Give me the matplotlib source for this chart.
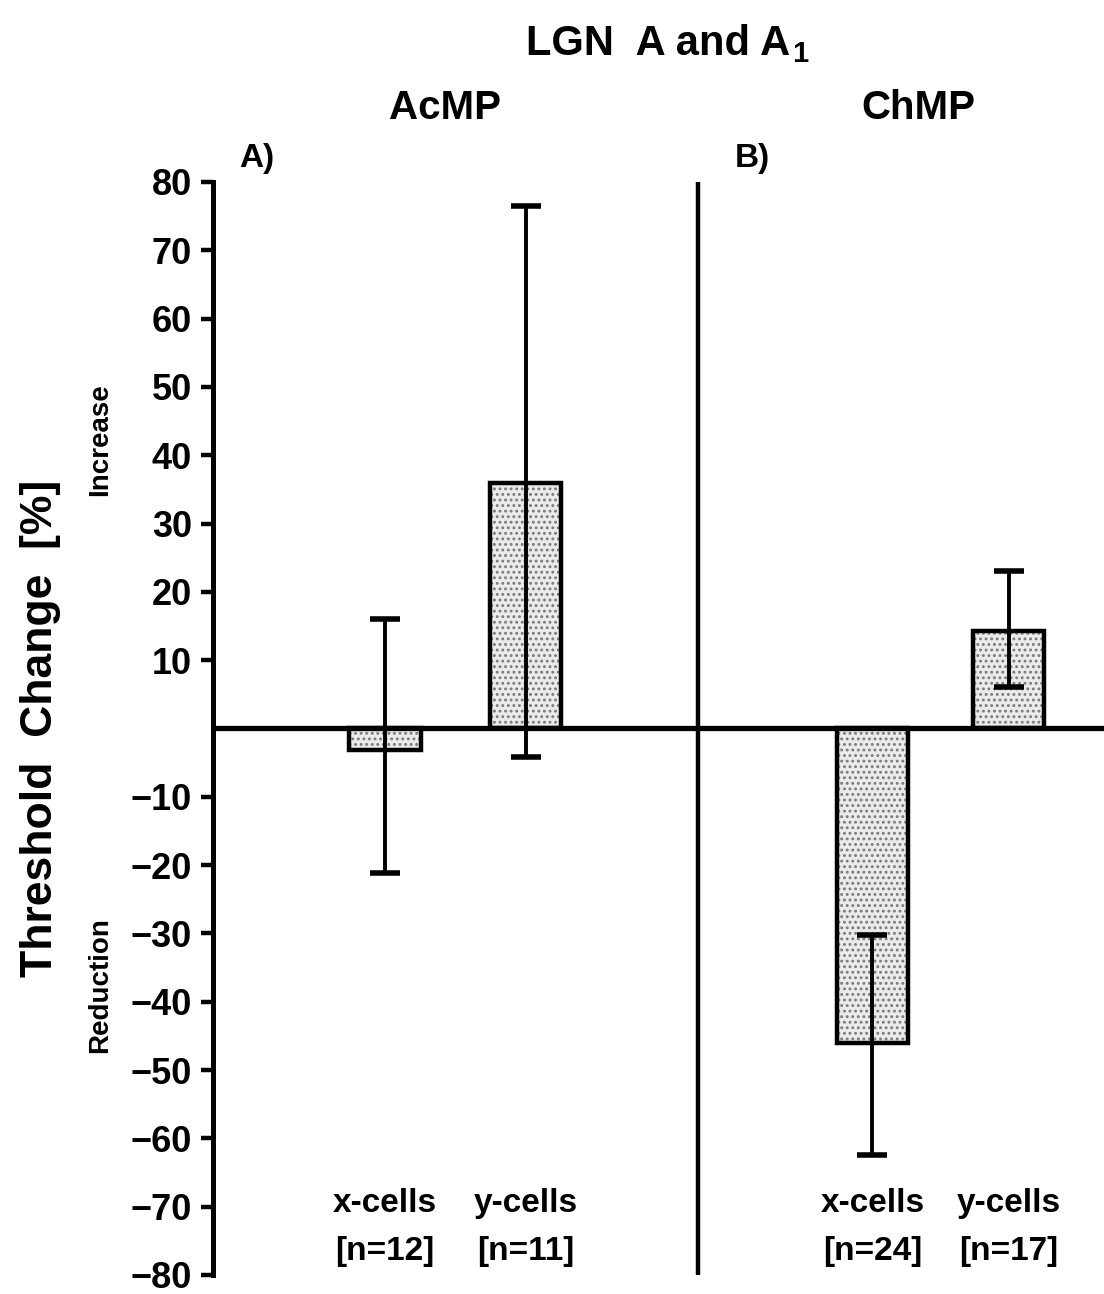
import matplotlib
matplotlib.use("Agg")
import matplotlib.pyplot as plt
import numpy as np

plt.rcParams['font.family'] = ['Liberation Sans', 'DejaVu Sans']
plt.rcParams['font.weight'] = 'bold'
plt.rcParams['hatch.linewidth'] = 1.3

# threshold change (%) per cell class, mean and error bar ends
cells = ['x-cells', 'y-cells']
acmp_n = [12, 11]
acmp_mean = [-3.2, 36.0]
acmp_hi = [16.0, 76.5]
acmp_lo = [-21.2, -4.2]

chmp_n = [24, 17]
chmp_mean = [-46.0, 14.3]
chmp_hi = [-30.3, 23.0]
chmp_lo = [-62.5, 6.0]

yticks = [v for v in range(-80, 90, 10) if v != 0]

fig = plt.figure(figsize=(11.04, 12.94), dpi=100)
ax = fig.add_axes([0.193, 0.0147, 0.807, 0.8447])
ax.set_xlim(0, 10)
ax.set_ylim(-80, 80)

bar_w = 0.80
groups = [
    ([1.93, 3.51], acmp_mean, acmp_hi, acmp_lo, acmp_n),
    ([7.40, 8.93], chmp_mean, chmp_hi, chmp_lo, chmp_n),
]

for xs, mean, hi, lo, ns in groups:
    mean = np.array(mean)
    err = [mean - np.array(lo), np.array(hi) - mean]
    # stippled fill, then the black outline on top
    ax.bar(xs, mean, width=bar_w, color='#ebebeb', edgecolor='#7a7a7a',
           hatch='...', linewidth=0, zorder=2)
    ax.bar(xs, mean, width=bar_w, fill=False, edgecolor='black',
           linewidth=3.2, zorder=3)
    ax.errorbar(xs, mean, yerr=err, fmt='none', ecolor='black',
                elinewidth=2.8, capsize=11, capthick=4.0, zorder=4)
    for x, name, n in zip(xs, cells, ns):
        ax.text(x, -69.5, name, ha='center', va='center', fontsize=24,
                fontweight='bold')
        ax.text(x, -76.6, '[n=%d]' % n, ha='center', va='center',
                fontsize=24, fontweight='bold')

ax.axhline(0, color='black', linewidth=3.8, zorder=5)
ax.axvline(5.44, color='black', linewidth=3.2, zorder=5)

for side in ['top', 'right', 'bottom']:
    ax.spines[side].set_visible(False)
ax.spines['left'].set_linewidth(3.6)
ax.set_xticks([])
ax.set_yticks(yticks)
ax.set_yticklabels([str(v).replace('-', '\u2212') for v in yticks])
ax.tick_params(axis='y', direction='out', length=9, width=3.2, pad=6,
               labelsize=26)
for lab in ax.get_yticklabels():
    lab.set_fontweight('bold')

ax.set_ylabel('Threshold  Change  [%]', fontsize=32, fontweight='bold',
              labelpad=50)
fig.text(100 / 1104, 1 - 440 / 1294, 'Increase', rotation=90, ha='center',
         va='center', fontsize=20, fontweight='bold')
fig.text(100 / 1104, 1 - 985 / 1294, 'Reduction', rotation=90, ha='center',
         va='center', fontsize=20, fontweight='bold')

# headings
fig.text(790 / 1104, 1 - 44 / 1294, 'LGN  A and A', ha='right', va='center',
         fontsize=30, fontweight='bold')
fig.text(792 / 1104, 1 - 54 / 1294, '1', ha='left', va='center',
         fontsize=21, fontweight='bold')
fig.text(445 / 1104, 1 - 108 / 1294, 'AcMP', ha='center', va='center',
         fontsize=29, fontweight='bold')
fig.text(918 / 1104, 1 - 108 / 1294, 'ChMP', ha='center', va='center',
         fontsize=29, fontweight='bold')
fig.text(257 / 1104, 1 - 158 / 1294, 'A)', ha='center', va='center',
         fontsize=24, fontweight='bold')
fig.text(752 / 1104, 1 - 158 / 1294, 'B)', ha='center', va='center',
         fontsize=24, fontweight='bold')

fig.savefig('out.png', dpi=100, facecolor='white')
